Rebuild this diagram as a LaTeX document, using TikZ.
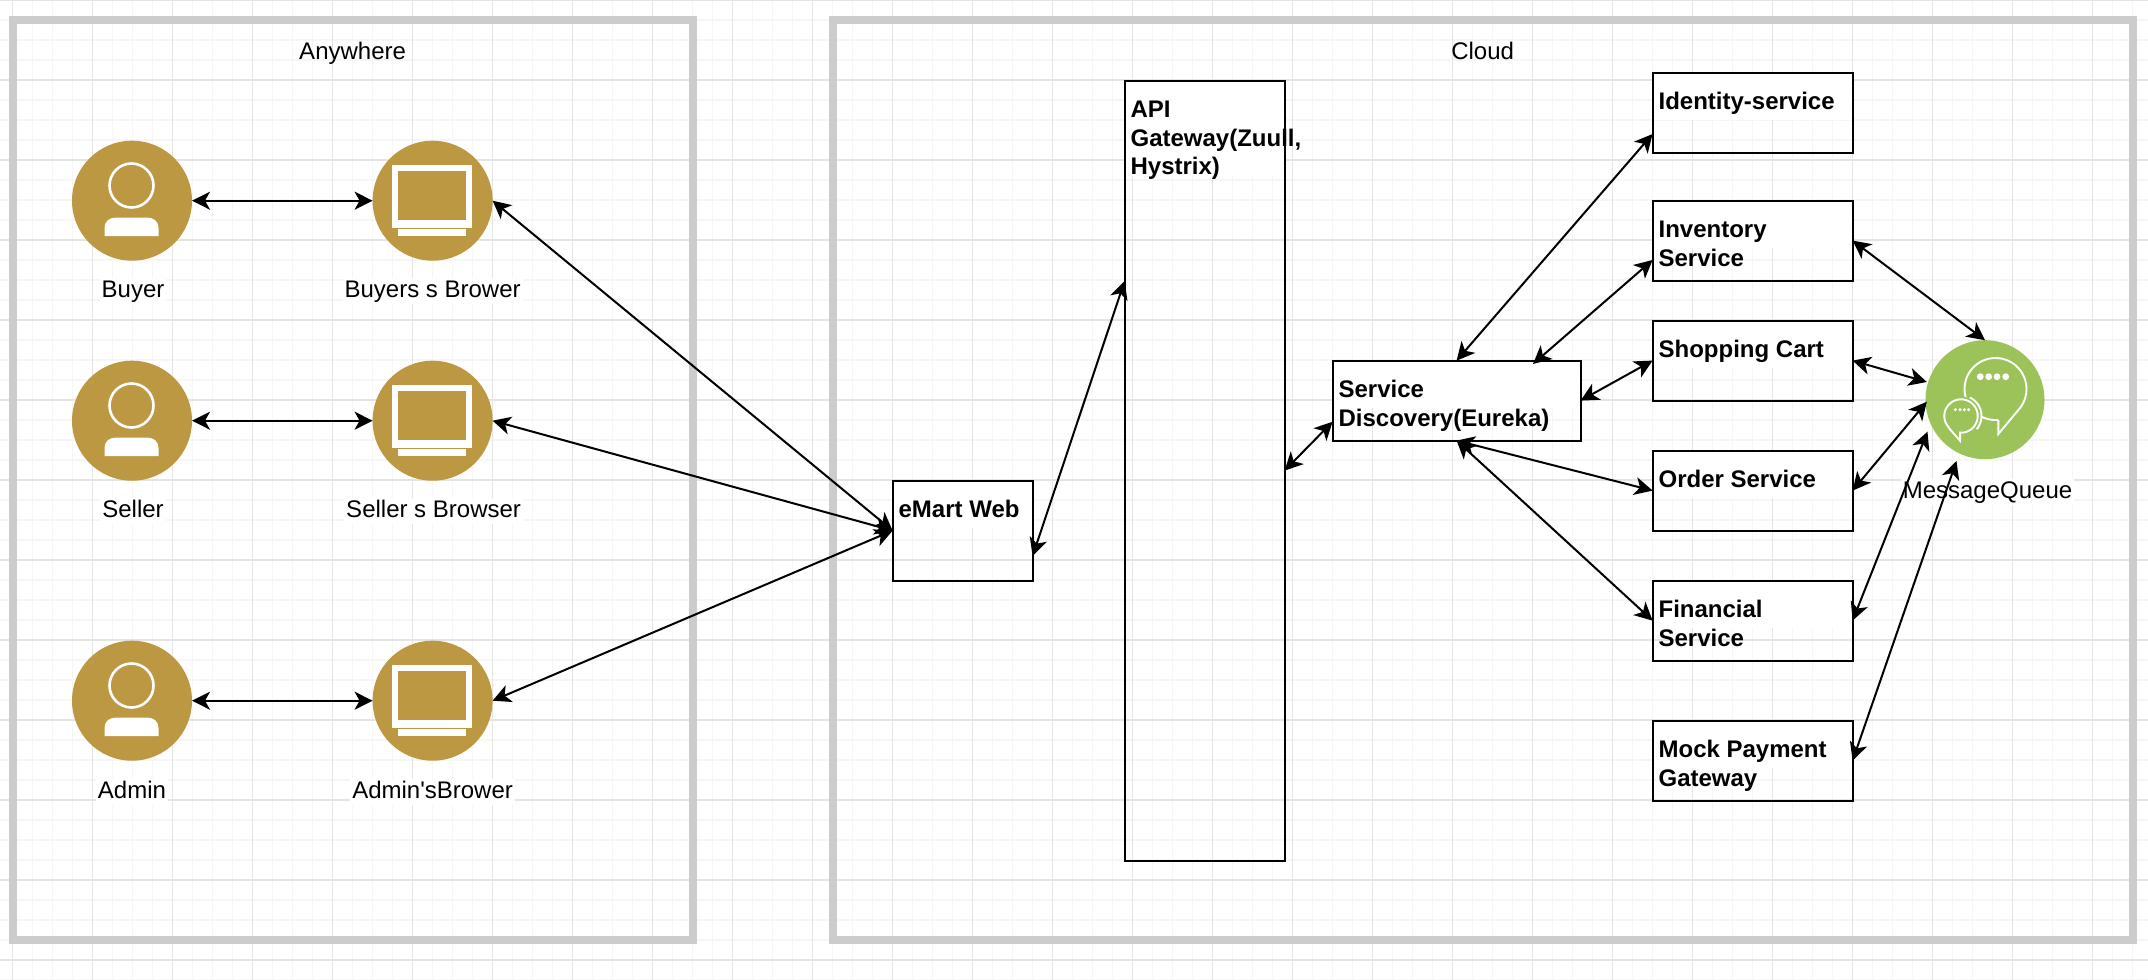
\documentclass[tikz,border=0pt]{standalone}
\usepackage{fontspec}
\setmainfont{Liberation Sans}
\newfontfamily\rawfont{Liberation Sans}
\usetikzlibrary{arrows.meta}
\definecolor{gold}{HTML}{BD9842}
\definecolor{msggreen}{HTML}{9CC35A}
\definecolor{framegray}{HTML}{CCCCCC}
\definecolor{gridmajor}{HTML}{E4E4E4}
\definecolor{gridminor}{HTML}{F6F6F6}
\newcommand\firstline[1]{\hbox to \hsize{\vrule height 37pt width 0pt\hskip 6pt #1\hss}}
\newcommand\nextline[1]{\hbox to \hsize{\hskip 6pt #1\hss}}
\newcommand\boxbody[3]{\vbox to #2{\hsize=#1\relax\baselineskip=28.5pt\relax #3\vss}}
\tikzset{
  frame/.style={draw=framegray,line width=8pt,inner sep=0pt,outer sep=0pt,anchor=north west},
  servicebox/.style={draw=black,line width=2.2pt,inner sep=0pt,outer sep=0pt,anchor=north west,font=\fontsize{24}{28}\selectfont\bfseries},
  actor/.style={circle,fill=gold,minimum size=120pt,inner sep=0pt,outer sep=0pt},
  mqcircle/.style={circle,fill=msggreen,minimum size=119pt,inner sep=0pt,outer sep=0pt},
  caption/.style={fill=white,inner sep=2pt,outer sep=0pt,text height=17pt,text depth=5pt,font=\fontsize{24}{28}\selectfont},
  title/.style={inner sep=0pt,outer sep=0pt,text height=17pt,text depth=5pt,font=\fontsize{24}{28}\selectfont},
  link/.style={draw=black,line width=2pt,{Stealth[length=18pt,width=18pt,inset=5pt]}-{Stealth[length=18pt,width=18pt,inset=5pt]}},
  iconline/.style={draw=white,line width=2pt}
}
\newcommand\personicon[2]{%
  \draw[iconline,line width=2.6pt,fill=gold] (#1,#2-14.5) circle (22pt);
  \fill[white] (#1-27,#2+36) -- (#1-27,#2+28) .. controls (#1-27,#2+21) and (#1-22,#2+17.5) .. (#1-15,#2+17.5) -- (#1+15,#2+17.5) .. controls (#1+22,#2+17.5) and (#1+27,#2+21) .. (#1+27,#2+28) -- (#1+27,#2+36) -- cycle;
}
\newcommand\screenicon[2]{%
  \fill[white] (#1-40.5,#2-35.5) rectangle (#1+40,#2+27.5);
  \fill[gold] (#1-34.5,#2-29) rectangle (#1+34,#2+19.5);
  \fill[white] (#1-34.5,#2+29) rectangle (#1+34,#2+35.5);
}
\newcommand\topwhite[4]{\fill[white] (#1,#2) rectangle +(#3,#4);}
\begin{document}
\begin{tikzpicture}[x=1pt,y=-1pt]
\useasboundingbox (0,0) rectangle (2148,980);
\fill[white] (0,0) rectangle (2148,980);
% grid
\foreach \i in {0,...,107} {\draw[gridminor,line width=1.1pt] ({12.6+20*\i-20},0) -- ++(0,980);}
\foreach \i in {0,...,49} {\draw[gridminor,line width=1.1pt] (0,{20*\i}) -- ++(2148,0);}
\foreach \i in {0,...,27} {\draw[gridmajor,line width=1.2pt] ({12.6+80*\i},0) -- ++(0,980);}
\foreach \i in {0,...,12} {\draw[gridmajor,line width=1.2pt] (0,{80*\i}) -- ++(2148,0);}
% frames
\node[frame,minimum width=680pt,minimum height=920pt] (anywhereframe) at (12.6,20) {};
\node[frame,minimum width=1300pt,minimum height=920pt] (cloudframe) at (832.6,20) {};
\node[title] (anywheretitle) at (352.6,53.5) {Anywhere};
\node[title] (cloudtitle) at (1482.6,53.5) {Cloud};
% actors
\node[actor] (buyer) at (132,200.7) {};
\node[actor] (buyerb) at (432.6,200.7) {};
\node[actor] (seller) at (132,420.7) {};
\node[actor] (sellerb) at (432.6,420.7) {};
\node[actor] (admin) at (132,700.7) {};
\node[actor] (adminb) at (432.6,700.7) {};
\personicon{131.5}{200}
\personicon{131.5}{420}
\personicon{131.5}{700}
\screenicon{432}{200}
\screenicon{432}{420}
\screenicon{432}{700}
\node[caption] (buyerl) at (133,291) {Buyer};
\node[caption] (buyerbl) at (432.6,291) {Buyers s Brower};
\node[caption] (sellerl) at (133,511) {Seller};
\node[caption] (sellerbl) at (433.6,511) {Seller s Browser};
\node[caption] (adminl) at (132,792) {Admin};
\node[caption] (adminbl) at (432.6,792) {{\rawfont Admin's}{\rawfont Brower}};
% white label strips
\topwhite{892.6}{480.6}{140}{47}
\topwhite{1124.6}{80.6}{160}{95}
\topwhite{1332.6}{360.6}{248}{47}
\topwhite{1652.6}{72.6}{200}{47}
\topwhite{1652.6}{200.6}{200}{47}
\topwhite{1652.6}{320.6}{200}{47}
\topwhite{1652.6}{450.6}{200}{47}
\topwhite{1652.6}{580.6}{200}{47}
\topwhite{1652.6}{720.6}{200}{47}
% boxes
\node[servicebox] (emart) at (892.6,480.6) {\boxbody{140pt}{100pt}{\firstline{eMart Web}}};
\node[servicebox] (api) at (1124.6,80.6) {\boxbody{160pt}{780pt}{\firstline{API}\nextline{Gateway(Zuull,}\nextline{Hystrix)}}};
\node[servicebox] (eureka) at (1332.6,360.6) {\boxbody{248pt}{80pt}{\firstline{Service}\nextline{Discovery(Eureka)}}};
\node[servicebox] (identity) at (1652.6,72.6) {\boxbody{200pt}{80pt}{\firstline{Identity-service}}};
\node[servicebox] (inventory) at (1652.6,200.6) {\boxbody{200pt}{80pt}{\firstline{Inventory}\nextline{Service}}};
\node[servicebox] (cart) at (1652.6,320.6) {\boxbody{200pt}{80pt}{\firstline{Shopping Cart}}};
\node[servicebox] (order) at (1652.6,450.6) {\boxbody{200pt}{80pt}{\firstline{Order Service}}};
\node[servicebox] (financial) at (1652.6,580.6) {\boxbody{200pt}{80pt}{\firstline{Financial}\nextline{Service}}};
\node[servicebox] (mock) at (1652.6,720.6) {\boxbody{200pt}{80pt}{\firstline{Mock Payment}\nextline{Gateway}}};
% message queue
\node[mqcircle] (mq) at (1985,399.7) {};
\draw[iconline,line width=1.9pt] plot[domain=85:398,samples=70] ({1995.5+31*cos(\x)},{389+31*sin(\x)}) -- (1998.3,434) -- (1998.3,420);
\fill[msggreen] (1961,416) circle (19.5pt);
\draw[iconline,line width=1.9pt] plot[domain=-65:40,samples=30] ({1961+20.5*cos(\x)},{416+20.5*sin(\x)});
\draw[iconline,line width=1.9pt,fill=msggreen] plot[domain=136:453,samples=70] ({1961+16.7*cos(\x)},{416+16.7*sin(\x)}) -- (1960,440.7) -- (1948.9,428);
\foreach \dx in {1980.3,1988.7,1997,2005.7} {\fill[white] (\dx,376.7) circle (3.4pt);}
\foreach \dx in {1955.3,1960,1964.3,1968.7} {\fill[white] (\dx,409.7) circle (1.7pt);}
\node[caption] (mql) at (1987.5,492.3) {MessageQueue};
% free ends
\coordinate (apiL) at (1124.6,281);
\coordinate (emartR) at (1032.6,556);
\coordinate (eurekaL) at (1332.6,421.7);
\coordinate (eurekaT) at (1533,364);
\coordinate (identityL) at (1652.6,134);
\coordinate (inventoryL) at (1652.6,260);
\coordinate (mqA) at (1926.8,382);
\coordinate (mqB) at (1926.8,401.7);
\coordinate (mqC) at (1927.5,431.7);
\coordinate (mqD) at (1956.5,461);
% connectors
\draw[link] (buyer.east) -- (buyerb.west);
\draw[link] (seller.east) -- (sellerb.west);
\draw[link] (admin.east) -- (adminb.west);
\draw[link] (buyerb.east) -- (emart.west);
\draw[link] (sellerb.east) -- (emart.west);
\draw[link] (adminb.east) -- (emart.west);
\draw[link] (emartR) -- (apiL);
\draw[link] (api.east) -- (eurekaL);
\draw[link] (eureka.north) -- (identityL);
\draw[link] (eurekaT) -- (inventoryL);
\draw[link] (eureka.east) -- (cart.west);
\draw[link] (eureka.south) -- (order.west);
\draw[link] (eureka.south) -- (financial.west);
\draw[link] (inventory.east) -- (mq.north);
\draw[link] (cart.east) -- (mqA);
\draw[link] (order.east) -- (mqB);
\draw[link] (financial.east) -- (mqC);
\draw[link] (mock.east) -- (mqD);
\end{tikzpicture}
\end{document}
